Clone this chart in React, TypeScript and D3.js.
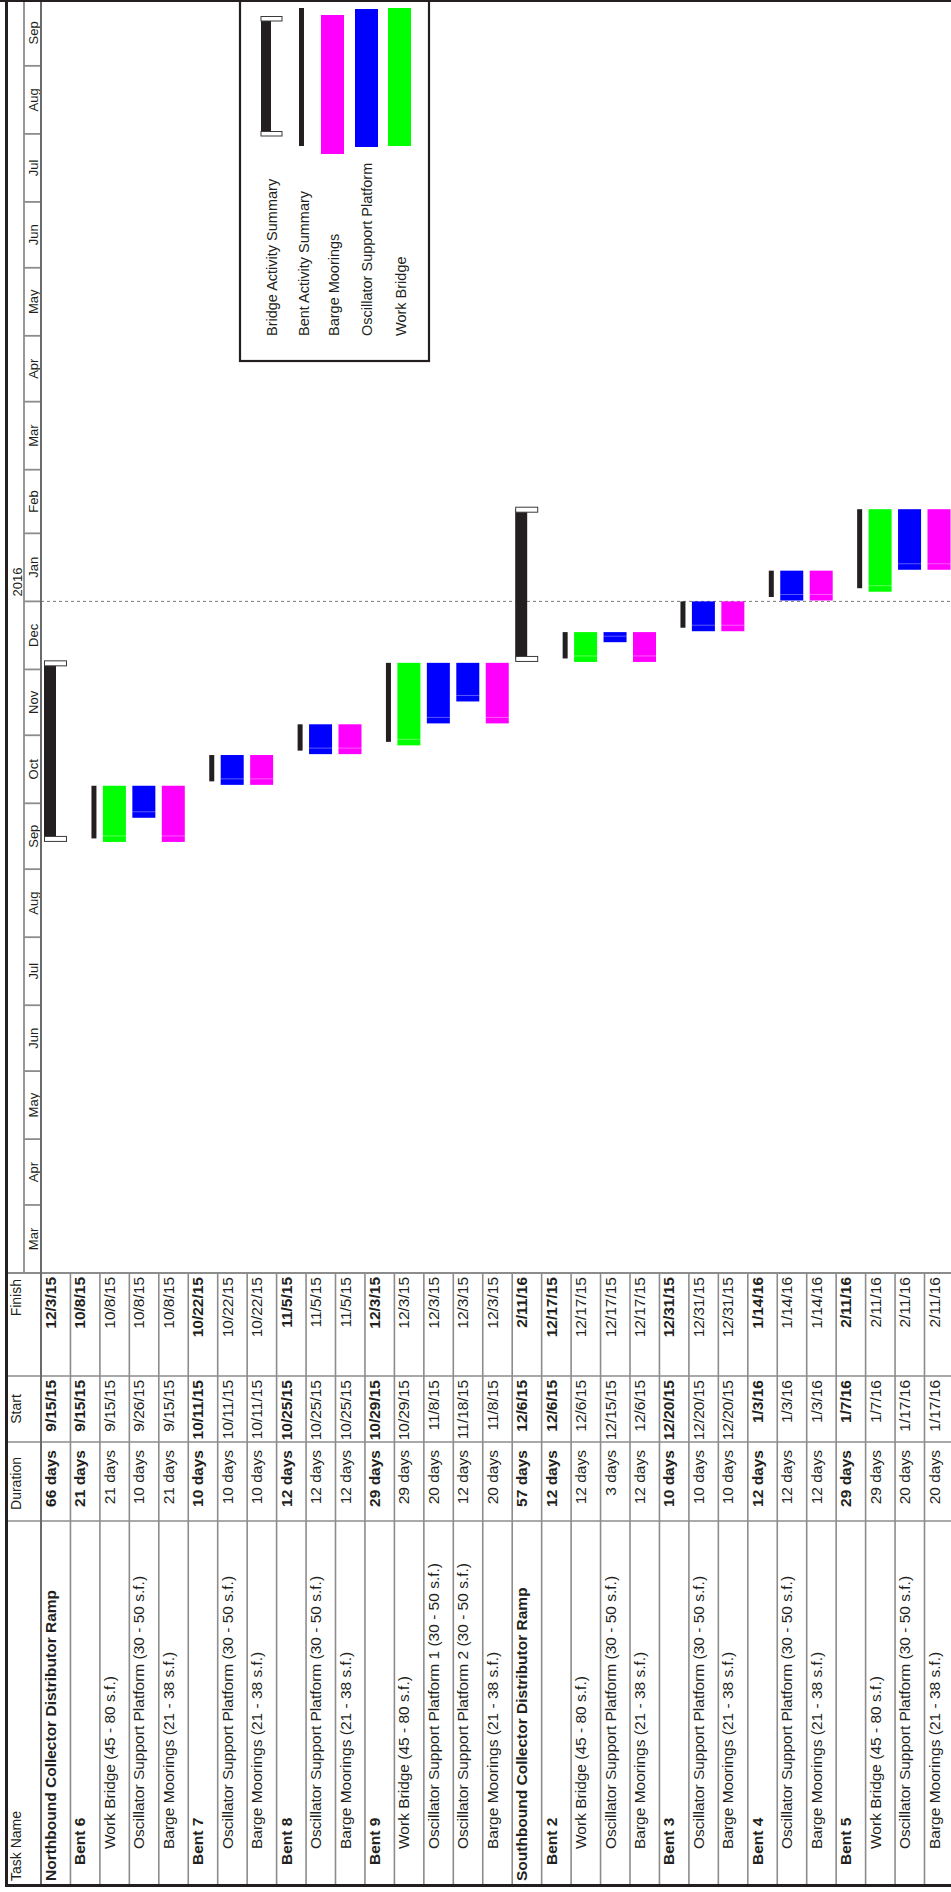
import React from "react";
import * as d3 from "d3";

// ---------- DATA ----------
const taskNames = [
  "Northbound Collector Distributor Ramp",
  "Bent 6",
  "Work Bridge (45 - 80 s.f.)",
  "Oscillator Support Platform (30 - 50 s.f.)",
  "Barge Moorings (21 - 38 s.f.)",
  "Bent 7",
  "Oscillator Support Platform (30 - 50 s.f.)",
  "Barge Moorings (21 - 38 s.f.)",
  "Bent 8",
  "Oscillator Support Platform (30 - 50 s.f.)",
  "Barge Moorings (21 - 38 s.f.)",
  "Bent 9",
  "Work Bridge (45 - 80 s.f.)",
  "Oscillator Support Platform 1 (30 - 50 s.f.)",
  "Oscillator Support Platform 2 (30 - 50 s.f.)",
  "Barge Moorings (21 - 38 s.f.)",
  "Southbound Collector Distributor Ramp",
  "Bent 2",
  "Work Bridge (45 - 80 s.f.)",
  "Oscillator Support Platform (30 - 50 s.f.)",
  "Barge Moorings (21 - 38 s.f.)",
  "Bent 3",
  "Oscillator Support Platform (30 - 50 s.f.)",
  "Barge Moorings (21 - 38 s.f.)",
  "Bent 4",
  "Oscillator Support Platform (30 - 50 s.f.)",
  "Barge Moorings (21 - 38 s.f.)",
  "Bent 5",
  "Work Bridge (45 - 80 s.f.)",
  "Oscillator Support Platform (30 - 50 s.f.)",
  "Barge Moorings (21 - 38 s.f.)",
];
const durations = [
  "66 days", "21 days", "21 days", "10 days", "21 days",
  "10 days", "10 days", "10 days",
  "12 days", "12 days", "12 days",
  "29 days", "29 days", "20 days", "12 days", "20 days",
  "57 days", "12 days", "12 days", "3 days", "12 days",
  "10 days", "10 days", "10 days",
  "12 days", "12 days", "12 days",
  "29 days", "29 days", "20 days", "20 days",
];
const starts = [
  "9/15/15", "9/15/15", "9/15/15", "9/26/15", "9/15/15",
  "10/11/15", "10/11/15", "10/11/15",
  "10/25/15", "10/25/15", "10/25/15",
  "10/29/15", "10/29/15", "11/8/15", "11/18/15", "11/8/15",
  "12/6/15", "12/6/15", "12/6/15", "12/15/15", "12/6/15",
  "12/20/15", "12/20/15", "12/20/15",
  "1/3/16", "1/3/16", "1/3/16",
  "1/7/16", "1/7/16", "1/17/16", "1/17/16",
];
const finishes = [
  "12/3/15", "10/8/15", "10/8/15", "10/8/15", "10/8/15",
  "10/22/15", "10/22/15", "10/22/15",
  "11/5/15", "11/5/15", "11/5/15",
  "12/3/15", "12/3/15", "12/3/15", "12/3/15", "12/3/15",
  "2/11/16", "12/17/15", "12/17/15", "12/17/15", "12/17/15",
  "12/31/15", "12/31/15", "12/31/15",
  "1/14/16", "1/14/16", "1/14/16",
  "2/11/16", "2/11/16", "2/11/16", "2/11/16",
];
const levels = [
  0, 1, 2, 2, 2, 1, 2, 2, 1, 2, 2, 1, 2, 2, 2, 2,
  0, 1, 2, 2, 2, 1, 2, 2, 1, 2, 2, 1, 2, 2, 2,
];
const kinds = [
  "bridge", "bent", "wb", "osp", "bm", "bent", "osp", "bm", "bent", "osp", "bm",
  "bent", "wb", "osp", "osp", "bm",
  "bridge", "bent", "wb", "osp", "bm", "bent", "osp", "bm", "bent", "osp", "bm",
  "bent", "wb", "osp", "bm",
];
const columnHeaders = ["Task Name", "Duration", "Start", "Finish"];
const yearLabel = "2016";
const legendLabels = [
  "Bridge Activity Summary",
  "Bent Activity Summary",
  "Barge Moorings",
  "Oscillator Support Platform",
  "Work Bridge",
];
const legendKinds = ["bridge", "bent", "bm", "osp", "wb"];
const timeStart = "3/1/15";
const timeEnd = "10/1/16";

// ---------- STYLE / LAYOUT ----------
const W = 951;
const H = 1892;
const FONT = "'Liberation Sans', Arial, Helvetica, sans-serif";
const INK = "#231f20";
const GRID = "#8c8c8c";
const COLORS: Record<string, string> = {
  wb: "#00ff00",
  osp: "#0000ff",
  bm: "#ff00ff",
  bent: INK,
  bridge: INK,
};
const CHART_BOTTOM = 1273;
const ROW0 = 41;
const ROW_H = 29.45;
const BORDER_L = 6.5;
const YEAR_SPLIT = 24;
const TABLE_BOTTOM = 1885;
const COL_FIN = 1273;
const COL_START = 1376;
const COL_DUR = 1442;
const COL_TASK = 1521;
const TXT = 15.5;
const HDR = 14;

const parse = d3.timeParse("%m/%d/%y");
const dayAfter = (d: Date) => d3.timeDay.offset(d, 1);

export default function App() {
  const y = d3
    .scaleTime()
    .domain([parse(timeStart)!, parse(timeEnd)!])
    .range([CHART_BOTTOM, 0]);

  const rowX = (i: number) => ROW0 + ROW_H * i;

  const months = d3.timeMonth.range(parse(timeStart)!, parse(timeEnd)!);
  const jan2016 = parse("1/1/16")!;

  const rot = (x: number, yy: number) => `translate(${x},${yy}) rotate(-90)`;

  // bars
  const bars: React.ReactNode[] = [];
  taskNames.forEach((_, i) => {
    const rx = rowX(i);
    const s = parse(starts[i])!;
    const f = dayAfter(parse(finishes[i])!);
    const yTop = y(f);
    const yBot = y(s);
    const k = kinds[i];
    if (k === "bridge") {
      bars.push(
        <g key={"b" + i}>
          <rect x={rx + 3} y={yTop} width={12} height={yBot - yTop} fill={INK} />
          <rect x={rx + 3.5} y={yTop - 2} width={22} height={5} fill="#fff" stroke="#3a3a3a" strokeWidth={1} />
          <rect x={rx + 3.5} y={yBot - 2} width={22} height={5} fill="#fff" stroke="#3a3a3a" strokeWidth={1} />
        </g>
      );
    } else if (k === "bent") {
      bars.push(
        <rect key={"b" + i} x={rx + 21} y={yTop} width={5} height={yBot - yTop} fill={INK} />
      );
    } else {
      bars.push(
        <g key={"b" + i}>
          <rect x={rx + 3} y={yTop} width={23} height={yBot + 3.5 - yTop} fill={COLORS[k]} />
          <line x1={rx + 3} x2={rx + 26} y1={yBot - 2.5} y2={yBot - 2.5} stroke="#fff" strokeOpacity={0.35} strokeWidth={1} />
        </g>
      );
    }
  });

  // legend layout
  const LEG = { x0: 240, x1: 429, y1: 361 };
  const legendItems = legendKinds.map((k, i) => {
    const cx = [266, 301.5, 332.5, 366.5, 399.5][i];
    const tx = [277, 308.5, 339, 371.5, 405.5][i];
    let mark: React.ReactNode = null;
    if (k === "bridge") {
      mark = (
        <g>
          <rect x={cx - 5} y={18} width={10} height={116} fill={INK} />
          <rect x={cx - 5} y={16.5} width={21} height={4.5} fill="#fff" stroke="#3a3a3a" strokeWidth={1} />
          <rect x={cx - 5} y={131.5} width={21} height={4.5} fill="#fff" stroke="#3a3a3a" strokeWidth={1} />
        </g>
      );
    } else if (k === "bent") {
      mark = <rect x={cx - 2.5} y={8} width={5} height={138} fill={INK} />;
    } else {
      const top = k === "bm" ? 15 : k === "osp" ? 9 : 8;
      const h = k === "bm" ? 139 : 138;
      mark = <rect x={cx - 11.5} y={top} width={23} height={h} fill={COLORS[k]} />;
    }
    return (
      <g key={"leg" + i}>
        {mark}
        <text transform={rot(tx, 336)} fontSize={14.5} fill={INK} textAnchor="start">
          {legendLabels[i]}
        </text>
      </g>
    );
  });

  const rowLines = d3.range(1, taskNames.length + 1).map((k) => rowX(k));

  return (
    <svg
      width={W}
      height={H}
      style={{ position: "absolute", left: 0, top: 0, background: "#fff" }}
      fontFamily={FONT}
    >
      <rect x={0} y={0} width={W} height={H} fill="#fff" />

      {/* timescale tiers */}
      <line x1={YEAR_SPLIT} x2={YEAR_SPLIT} y1={0} y2={CHART_BOTTOM} stroke={GRID} strokeWidth={1.8} />
      {months.map((m, i) => {
        const y0 = y(m);
        const y1 = Math.max(0, y(d3.timeMonth.offset(m, 1)));
        return (
          <g key={"m" + i}>
            {i > 0 && (
              <line x1={YEAR_SPLIT} x2={ROW0} y1={y0} y2={y0} stroke={GRID} strokeWidth={1.8} />
            )}
            <text transform={rot(38, (y0 + y1) / 2)} fontSize={13} fill={INK} textAnchor="middle">
              {d3.timeFormat("%b")(m)}
            </text>
          </g>
        );
      })}
      <text transform={rot(21.5, y(jan2016) - 5)} fontSize={13} fill={INK} textAnchor="start">
        {yearLabel}
      </text>

      {/* Jan 1 dashed marker */}
      <line x1={ROW0} x2={W} y1={y(jan2016)} y2={y(jan2016)} stroke="#7a7a7a" strokeWidth={1} strokeDasharray="3,3" />

      {/* bars */}
      {bars}

      {/* legend */}
      <rect x={LEG.x0} y={0} width={LEG.x1 - LEG.x0} height={LEG.y1} fill="#fff" stroke={INK} strokeWidth={2.2} />
      {legendItems}

      {/* table */}
      {rowLines.map((x, i) => (
        <line key={"rl" + i} x1={x} x2={x} y1={COL_FIN} y2={TABLE_BOTTOM} stroke={GRID} strokeWidth={1.6} />
      ))}
      {[COL_START, COL_DUR, COL_TASK].map((c, i) => (
        <line key={"cl" + i} x1={BORDER_L} x2={W} y1={c} y2={c} stroke={GRID} strokeWidth={1.6} />
      ))}
      <line x1={BORDER_L} x2={W} y1={COL_FIN} y2={COL_FIN} stroke={GRID} strokeWidth={2} />
      <line x1={ROW0} x2={ROW0} y1={0} y2={TABLE_BOTTOM} stroke="#6a6a6a" strokeWidth={2} />

      {/* header texts */}
      <text transform={rot(21, TABLE_BOTTOM - 4)} fontSize={HDR} fill={INK} textAnchor="start">
        {columnHeaders[0]}
      </text>
      <text transform={rot(21, (COL_DUR + COL_TASK) / 2 + 2)} fontSize={HDR} fill={INK} textAnchor="middle">
        {columnHeaders[1]}
      </text>
      <text transform={rot(21, (COL_START + COL_DUR) / 2)} fontSize={HDR} fill={INK} textAnchor="middle">
        {columnHeaders[2]}
      </text>
      <text transform={rot(21, COL_FIN + 6)} fontSize={HDR} fill={INK} textAnchor="end">
        {columnHeaders[3]}
      </text>

      {taskNames.map((name, i) => {
        const bx = rowX(i) + 15;
        const bold = levels[i] < 2 ? 700 : 400;
        return (
          <g key={"t" + i} fontSize={TXT} fill={INK} fontWeight={bold}>
            <text transform={rot(bx, TABLE_BOTTOM - 4 - levels[i] * 16)} textAnchor="start">
              {name}
            </text>
            <text transform={rot(bx, COL_DUR + 8)} textAnchor="end">
              {durations[i]}
            </text>
            <text transform={rot(bx, COL_START + 4)} textAnchor="end">
              {starts[i]}
            </text>
            <text transform={rot(bx, COL_FIN + 4)} textAnchor="end">
              {finishes[i]}
            </text>
          </g>
        );
      })}

      {/* outer frame */}
      <line x1={0} x2={W} y1={1} y2={1} stroke={INK} strokeWidth={2.2} />
      <line x1={BORDER_L} x2={BORDER_L} y1={0} y2={TABLE_BOTTOM + 2} stroke={INK} strokeWidth={3} />
      <line x1={BORDER_L - 1.5} x2={W} y1={TABLE_BOTTOM + 0.5} y2={TABLE_BOTTOM + 0.5} stroke={INK} strokeWidth={3} />
    </svg>
  );
}
